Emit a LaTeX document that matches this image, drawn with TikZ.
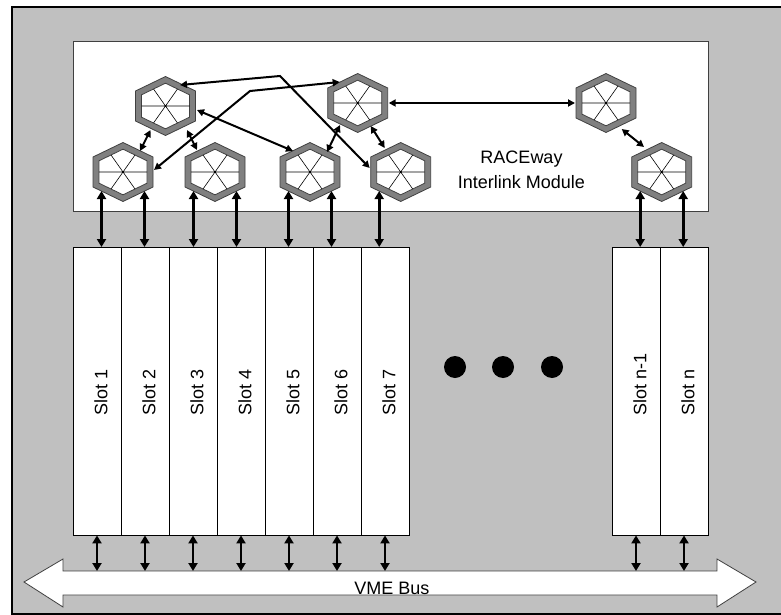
\documentclass[tikz,border=0pt]{standalone}
\usepackage{fontspec}
\setmainfont{Liberation Sans}
\usetikzlibrary{arrows.meta,calc}
\definecolor{ChassisGray}{HTML}{C0C0C0}
\definecolor{RingGray}{HTML}{808080}
\definecolor{EdgeGray}{HTML}{404040}

% one crossbar switch: name, x, y
\newcommand{\hexswitch}[3]{%
  \coordinate (#1) at (#2,#3);
  \begin{scope}[shift={(#1)}]
    \filldraw[fill=RingGray,draw=EdgeGray,line width=0.8pt] (0,-29.5) -- (30,-15) -- (30,15) -- (0,29.5) -- (-30,15) -- (-30,-15) -- cycle;
    \filldraw[fill=white,draw=EdgeGray,line width=0.8pt] (0,-22.8) -- (24,-11.2) -- (24,11.2) -- (0,22.8) -- (-24,11.2) -- (-24,-11.2) -- cycle;
    \draw[line width=0.6pt] (-24,0) -- (24,0) (-12,-17) -- (12,17) (12,-17) -- (-12,17);
  \end{scope}}

\begin{document}
\begin{tikzpicture}[x=1pt,y=-1pt,font=\fontsize{18}{24.5}\selectfont,
  slot/.style={draw=black,fill=white,line width=0.8pt,minimum width=48pt,minimum height=288pt,inner sep=0pt},
  slotlabel/.style={rotate=90,anchor=west,inner sep=0pt},
  hexlink/.style={<->,>={Triangle[length=7pt,width=7pt]},line width=2pt},
  buslink/.style={<->,>={Triangle[length=8pt,width=9pt]},line width=2.6pt}]
  \useasboundingbox (0,0) rectangle (781,615);
  \filldraw[fill=ChassisGray,draw=black,line width=1.2pt] (12,7) rectangle (782,614);

  % RACEway module
  \node[draw=EdgeGray,fill=white,line width=0.9pt,minimum width=635pt,minimum height=170pt,inner sep=0pt] (module) at (390.5,126) {};
  \node[align=center] (modlabel) at (521.5,170) {RACEway\\Interlink Module};
  \hexswitch{h1}{165.5}{106}
  \hexswitch{h2}{357.7}{103}
  \hexswitch{h3}{606}{103}
  \hexswitch{a}{123}{172}
  \hexswitch{b}{215}{172}
  \hexswitch{c}{310}{172}
  \hexswitch{d}{400.7}{172}
  \hexswitch{e}{661.7}{172}

  \draw[hexlink] ($(h1)+(-15,24)$) -- ($(a)+(17,-21)$);
  \draw[hexlink] ($(h1)+(21.5,24)$) -- ($(b)+(-18,-22)$);
  \draw[hexlink] ($(h1)+(31.5,4)$) -- ($(c)+(-17,-21)$);
  \draw[hexlink] ($(h2)+(-17.7,22)$) -- ($(c)+(17,-20)$);
  \draw[hexlink] ($(h2)+(13,23)$) -- ($(d)+(-16,-24)$);
  \draw[hexlink] ($(h2)+(31,0)$) -- ($(h3)+(-31,0)$);
  \draw[hexlink] ($(h3)+(15.7,26)$) -- ($(e)+(-17.7,-25)$);
  \coordinate (bendA) at (280,76);
  \coordinate (bendB) at (250,91);
  \draw[hexlink] ($(h1)+(14.5,-21)$) -- (bendA) -- ($(d)+(-31,-4)$);
  \draw[hexlink] ($(a)+(31,-2)$) -- (bendB) -- ($(h2)+(-18,-21)$);

  % slots
  \foreach \i in {1,...,7}{
    \node[slot] (slot\i) at ({97+48*(\i-1)},391) {};
    \node[slotlabel] at ($(slot\i.south)+(4,-120)$) {Slot \i};
  }
  \node[slot] (slotnm1) at (636,391) {};
  \node[slotlabel] at ($(slotnm1.south)+(4,-120)$) {Slot n-1};
  \node[slot] (slotn) at (684,391) {};
  \node[slotlabel] at ($(slotn.south)+(4,-120)$) {Slot n};

  \foreach \h/\dx in {a/-21.5,a/21.5,b/-21.5,b/21.5,c/-21.5,c/21.5,d/-21.5,e/-21.5,e/21.5}
    \draw[buslink] ($(\h)+(\dx,19)$) -- ($(\h)+(\dx,75)$);

  \foreach \x in {455,503,552}
    \fill (\x,367) circle (11pt);

  % VME bus
  \coordinate (bustop) at (0,571);
  \filldraw[fill=white,draw=EdgeGray,line width=0.8pt] (24,582) -- (63,559) -- (63,571) -- (717,571) -- (717,559) -- (756,582) -- (717,607) -- (717,595) -- (63,595) -- (63,607) -- cycle;
  \node[anchor=base] (buslabel) at (392,594) {VME Bus};
  \foreach \s in {1,2,3,4,5,6,7,nm1,n}
    \draw[buslink] (slot\s.south) -- (slot\s.south |- bustop);
\end{tikzpicture}
\end{document}
